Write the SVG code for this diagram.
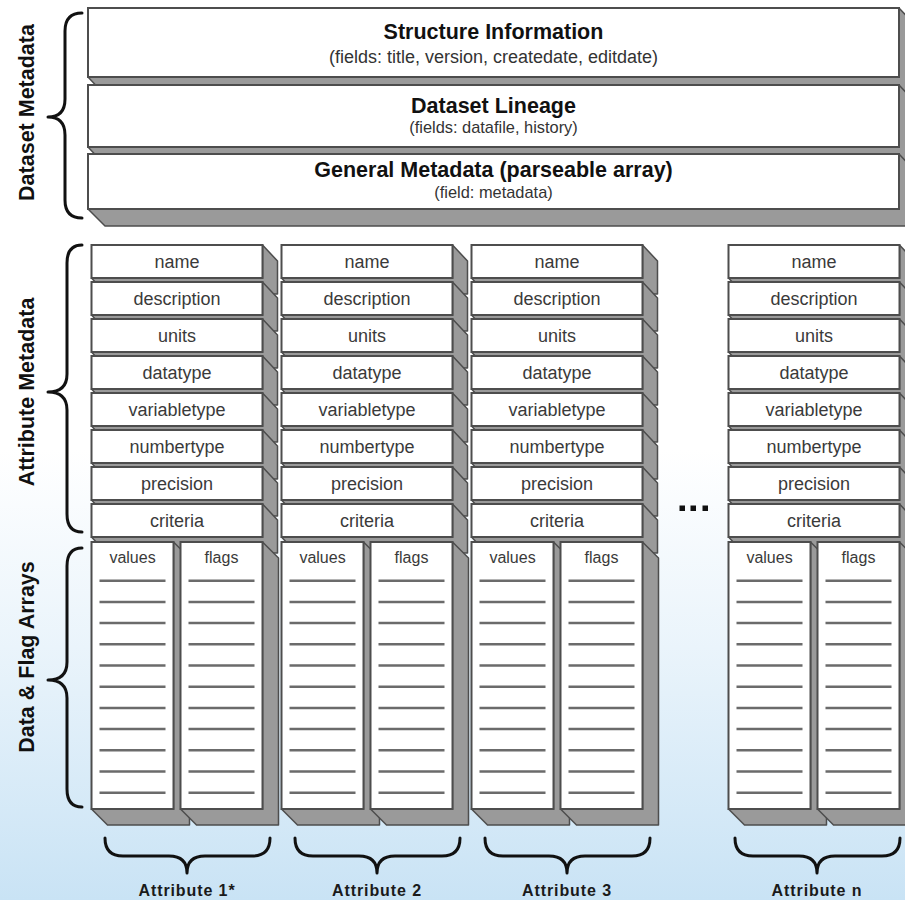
<svg xmlns="http://www.w3.org/2000/svg" width="905" height="900" viewBox="0 0 905 900">
<defs>
<linearGradient id="bg" x1="0" y1="0" x2="0" y2="1">
<stop offset="0" stop-color="#ffffff"/>
<stop offset="0.5" stop-color="#ffffff"/>
<stop offset="0.72" stop-color="#eaf4fb"/>
<stop offset="1" stop-color="#c9e3f5"/>
</linearGradient>
<style>
.face{fill:#ffffff;stroke:#4d4d4d;stroke-width:2}
.ext{fill:#9a9a9a;stroke:#4d4d4d;stroke-width:1.5;stroke-linejoin:round}
.title{font-family:"Liberation Sans",Arial,sans-serif;font-weight:bold;font-size:21.5px;fill:#111;text-anchor:middle}
.sub{font-family:"Liberation Sans",Arial,sans-serif;font-size:16.4px;fill:#333;text-anchor:middle}
.lbl{font-family:"Liberation Sans",Arial,sans-serif;font-size:18px;fill:#3a3a3a;text-anchor:middle}
.dl{font-family:"Liberation Sans",Arial,sans-serif;font-size:16px;fill:#3a3a3a;text-anchor:middle}
.side{font-family:"Liberation Sans",Arial,sans-serif;font-weight:bold;font-size:21.5px;fill:#111;text-anchor:middle}
.att{font-family:"Liberation Sans",Arial,sans-serif;font-weight:bold;font-size:16px;letter-spacing:0.9px;fill:#1a1a1a;text-anchor:middle}
.brace{fill:none;stroke:#111;stroke-width:3;stroke-linecap:round;stroke-linejoin:round}
.row{stroke:#6b6b6b;stroke-width:2.5}
</style>
</defs>
<rect x="0" y="0" width="905" height="900" fill="url(#bg)"/>

<!-- Dataset metadata -->
<g id="structure-information">
<path class="ext" d="M88 77 L104 94 L915 94 L915 25 L899 8 L899 77 Z"/>
<rect class="face" x="88" y="8" width="811" height="69"/>
<text class="title" x="493.5" y="39">Structure Information</text>
<text class="sub" x="493.5" y="63" style="font-size:18px">(fields: title, version, createdate, editdate)</text>
</g>
<g id="dataset-lineage">
<path class="ext" d="M88 147 L104 164 L915 164 L915 102 L899 85 L899 147 Z"/>
<rect class="face" x="88" y="85" width="811" height="62"/>
<text class="title" x="493.5" y="112.5">Dataset Lineage</text>
<text class="sub" x="493.5" y="133">(fields: datafile, history)</text>
</g>
<g id="general-metadata">
<path class="ext" d="M88 209 L105 226 L915 226 L915 171 L899 154 L899 209 Z"/>
<rect class="face" x="88" y="154" width="811" height="55"/>
<text class="title" x="493.5" y="177">General Metadata (parseable array)</text>
<text class="sub" x="493.5" y="198">(field: metadata)</text>
</g>

<!-- Attribute columns -->
<g id="attribute-1">
<g transform="translate(91.5,0)">
<path class="ext" d="M0 278 L15 294 L186 294 L186 261 L171 245 L171 278 Z"/><rect class="face" x="0" y="245" width="171" height="33"/><text class="lbl" x="85.5" y="267.5">name</text>
<path class="ext" d="M0 315 L15 331 L186 331 L186 298 L171 282 L171 315 Z"/><rect class="face" x="0" y="282" width="171" height="33"/><text class="lbl" x="85.5" y="304.5">description</text>
<path class="ext" d="M0 352 L15 368 L186 368 L186 335 L171 319 L171 352 Z"/><rect class="face" x="0" y="319" width="171" height="33"/><text class="lbl" x="85.5" y="341.5">units</text>
<path class="ext" d="M0 389 L15 405 L186 405 L186 372 L171 356 L171 389 Z"/><rect class="face" x="0" y="356" width="171" height="33"/><text class="lbl" x="85.5" y="378.5">datatype</text>
<path class="ext" d="M0 426 L15 442 L186 442 L186 409 L171 393 L171 426 Z"/><rect class="face" x="0" y="393" width="171" height="33"/><text class="lbl" x="85.5" y="415.5">variabletype</text>
<path class="ext" d="M0 463 L15 479 L186 479 L186 446 L171 430 L171 463 Z"/><rect class="face" x="0" y="430" width="171" height="33"/><text class="lbl" x="85.5" y="452.5">numbertype</text>
<path class="ext" d="M0 500 L15 516 L186 516 L186 483 L171 467 L171 500 Z"/><rect class="face" x="0" y="467" width="171" height="33"/><text class="lbl" x="85.5" y="489.5">precision</text>
<path class="ext" d="M0 537 L15 553 L186 553 L186 520 L171 504 L171 537 Z"/><rect class="face" x="0" y="504" width="171" height="33"/><text class="lbl" x="85.5" y="526.5">criteria</text>
<path class="ext" d="M0 809 L16 825 L98 825 L98 558 L82 542 L82 809 Z"/><rect class="face" x="0" y="542" width="82" height="267"/><text class="dl" x="41" y="563">values</text>
<path class="ext" d="M89 809 L105 825 L187 825 L187 558 L171 542 L171 809 Z"/><rect class="face" x="89" y="542" width="82" height="267"/><text class="dl" x="130" y="563">flags</text>
<path class="row" d="M8 580.7H74M8 601.9H74M8 623.1H74M8 644.3H74M8 665.5H74M8 686.7H74M8 707.9H74M8 729.1H74M8 750.3H74M8 771.5H74M8 792.7H74M97 580.7H163M97 601.9H163M97 623.1H163M97 644.3H163M97 665.5H163M97 686.7H163M97 707.9H163M97 729.1H163M97 750.3H163M97 771.5H163M97 792.7H163"/>
</g>
</g>
<g id="attribute-2">
<g transform="translate(281.5,0)">
<path class="ext" d="M0 278 L15 294 L186 294 L186 261 L171 245 L171 278 Z"/><rect class="face" x="0" y="245" width="171" height="33"/><text class="lbl" x="85.5" y="267.5">name</text>
<path class="ext" d="M0 315 L15 331 L186 331 L186 298 L171 282 L171 315 Z"/><rect class="face" x="0" y="282" width="171" height="33"/><text class="lbl" x="85.5" y="304.5">description</text>
<path class="ext" d="M0 352 L15 368 L186 368 L186 335 L171 319 L171 352 Z"/><rect class="face" x="0" y="319" width="171" height="33"/><text class="lbl" x="85.5" y="341.5">units</text>
<path class="ext" d="M0 389 L15 405 L186 405 L186 372 L171 356 L171 389 Z"/><rect class="face" x="0" y="356" width="171" height="33"/><text class="lbl" x="85.5" y="378.5">datatype</text>
<path class="ext" d="M0 426 L15 442 L186 442 L186 409 L171 393 L171 426 Z"/><rect class="face" x="0" y="393" width="171" height="33"/><text class="lbl" x="85.5" y="415.5">variabletype</text>
<path class="ext" d="M0 463 L15 479 L186 479 L186 446 L171 430 L171 463 Z"/><rect class="face" x="0" y="430" width="171" height="33"/><text class="lbl" x="85.5" y="452.5">numbertype</text>
<path class="ext" d="M0 500 L15 516 L186 516 L186 483 L171 467 L171 500 Z"/><rect class="face" x="0" y="467" width="171" height="33"/><text class="lbl" x="85.5" y="489.5">precision</text>
<path class="ext" d="M0 537 L15 553 L186 553 L186 520 L171 504 L171 537 Z"/><rect class="face" x="0" y="504" width="171" height="33"/><text class="lbl" x="85.5" y="526.5">criteria</text>
<path class="ext" d="M0 809 L16 825 L98 825 L98 558 L82 542 L82 809 Z"/><rect class="face" x="0" y="542" width="82" height="267"/><text class="dl" x="41" y="563">values</text>
<path class="ext" d="M89 809 L105 825 L187 825 L187 558 L171 542 L171 809 Z"/><rect class="face" x="89" y="542" width="82" height="267"/><text class="dl" x="130" y="563">flags</text>
<path class="row" d="M8 580.7H74M8 601.9H74M8 623.1H74M8 644.3H74M8 665.5H74M8 686.7H74M8 707.9H74M8 729.1H74M8 750.3H74M8 771.5H74M8 792.7H74M97 580.7H163M97 601.9H163M97 623.1H163M97 644.3H163M97 665.5H163M97 686.7H163M97 707.9H163M97 729.1H163M97 750.3H163M97 771.5H163M97 792.7H163"/>
</g>
</g>
<g id="attribute-3">
<g transform="translate(471.5,0)">
<path class="ext" d="M0 278 L15 294 L186 294 L186 261 L171 245 L171 278 Z"/><rect class="face" x="0" y="245" width="171" height="33"/><text class="lbl" x="85.5" y="267.5">name</text>
<path class="ext" d="M0 315 L15 331 L186 331 L186 298 L171 282 L171 315 Z"/><rect class="face" x="0" y="282" width="171" height="33"/><text class="lbl" x="85.5" y="304.5">description</text>
<path class="ext" d="M0 352 L15 368 L186 368 L186 335 L171 319 L171 352 Z"/><rect class="face" x="0" y="319" width="171" height="33"/><text class="lbl" x="85.5" y="341.5">units</text>
<path class="ext" d="M0 389 L15 405 L186 405 L186 372 L171 356 L171 389 Z"/><rect class="face" x="0" y="356" width="171" height="33"/><text class="lbl" x="85.5" y="378.5">datatype</text>
<path class="ext" d="M0 426 L15 442 L186 442 L186 409 L171 393 L171 426 Z"/><rect class="face" x="0" y="393" width="171" height="33"/><text class="lbl" x="85.5" y="415.5">variabletype</text>
<path class="ext" d="M0 463 L15 479 L186 479 L186 446 L171 430 L171 463 Z"/><rect class="face" x="0" y="430" width="171" height="33"/><text class="lbl" x="85.5" y="452.5">numbertype</text>
<path class="ext" d="M0 500 L15 516 L186 516 L186 483 L171 467 L171 500 Z"/><rect class="face" x="0" y="467" width="171" height="33"/><text class="lbl" x="85.5" y="489.5">precision</text>
<path class="ext" d="M0 537 L15 553 L186 553 L186 520 L171 504 L171 537 Z"/><rect class="face" x="0" y="504" width="171" height="33"/><text class="lbl" x="85.5" y="526.5">criteria</text>
<path class="ext" d="M0 809 L16 825 L98 825 L98 558 L82 542 L82 809 Z"/><rect class="face" x="0" y="542" width="82" height="267"/><text class="dl" x="41" y="563">values</text>
<path class="ext" d="M89 809 L105 825 L187 825 L187 558 L171 542 L171 809 Z"/><rect class="face" x="89" y="542" width="82" height="267"/><text class="dl" x="130" y="563">flags</text>
<path class="row" d="M8 580.7H74M8 601.9H74M8 623.1H74M8 644.3H74M8 665.5H74M8 686.7H74M8 707.9H74M8 729.1H74M8 750.3H74M8 771.5H74M8 792.7H74M97 580.7H163M97 601.9H163M97 623.1H163M97 644.3H163M97 665.5H163M97 686.7H163M97 707.9H163M97 729.1H163M97 750.3H163M97 771.5H163M97 792.7H163"/>
</g>
</g>
<g id="attribute-n">
<g transform="translate(728.5,0)">
<path class="ext" d="M0 278 L15 294 L186 294 L186 261 L171 245 L171 278 Z"/><rect class="face" x="0" y="245" width="171" height="33"/><text class="lbl" x="85.5" y="267.5">name</text>
<path class="ext" d="M0 315 L15 331 L186 331 L186 298 L171 282 L171 315 Z"/><rect class="face" x="0" y="282" width="171" height="33"/><text class="lbl" x="85.5" y="304.5">description</text>
<path class="ext" d="M0 352 L15 368 L186 368 L186 335 L171 319 L171 352 Z"/><rect class="face" x="0" y="319" width="171" height="33"/><text class="lbl" x="85.5" y="341.5">units</text>
<path class="ext" d="M0 389 L15 405 L186 405 L186 372 L171 356 L171 389 Z"/><rect class="face" x="0" y="356" width="171" height="33"/><text class="lbl" x="85.5" y="378.5">datatype</text>
<path class="ext" d="M0 426 L15 442 L186 442 L186 409 L171 393 L171 426 Z"/><rect class="face" x="0" y="393" width="171" height="33"/><text class="lbl" x="85.5" y="415.5">variabletype</text>
<path class="ext" d="M0 463 L15 479 L186 479 L186 446 L171 430 L171 463 Z"/><rect class="face" x="0" y="430" width="171" height="33"/><text class="lbl" x="85.5" y="452.5">numbertype</text>
<path class="ext" d="M0 500 L15 516 L186 516 L186 483 L171 467 L171 500 Z"/><rect class="face" x="0" y="467" width="171" height="33"/><text class="lbl" x="85.5" y="489.5">precision</text>
<path class="ext" d="M0 537 L15 553 L186 553 L186 520 L171 504 L171 537 Z"/><rect class="face" x="0" y="504" width="171" height="33"/><text class="lbl" x="85.5" y="526.5">criteria</text>
<path class="ext" d="M0 809 L16 825 L98 825 L98 558 L82 542 L82 809 Z"/><rect class="face" x="0" y="542" width="82" height="267"/><text class="dl" x="41" y="563">values</text>
<path class="ext" d="M89 809 L105 825 L187 825 L187 558 L171 542 L171 809 Z"/><rect class="face" x="89" y="542" width="82" height="267"/><text class="dl" x="130" y="563">flags</text>
<path class="row" d="M8 580.7H74M8 601.9H74M8 623.1H74M8 644.3H74M8 665.5H74M8 686.7H74M8 707.9H74M8 729.1H74M8 750.3H74M8 771.5H74M8 792.7H74M97 580.7H163M97 601.9H163M97 623.1H163M97 644.3H163M97 665.5H163M97 686.7H163M97 707.9H163M97 729.1H163M97 750.3H163M97 771.5H163M97 792.7H163"/>
</g>
</g>

<g id="ellipsis" fill="#111">
<rect x="679.5" y="505.5" width="5.5" height="5.5"/>
<rect x="690.5" y="505.5" width="5.5" height="5.5"/>
<rect x="702.5" y="505.5" width="5.5" height="5.5"/>
</g>

<!-- Braces and group labels -->
<g id="connectors">
<path class="brace" d="M82 13 Q65 13 65 31 L65 99 Q65 117 48 117 Q65 117 65 135 L65 200 Q65 218 82 218"/>
<path class="brace" d="M82 245 Q67 245 67 263 L67 374 Q67 392 48 392 Q67 392 67 410 L67 514 Q67 532 82 532"/>
<path class="brace" d="M82 548 Q67 548 67 566 L67 662 Q67 680 48 680 Q67 680 67 698 L67 789 Q67 807 82 807"/>
<path class="brace" d="M105 838 Q105 856 123 856 L169 856 Q187 856 187 873 Q187 856 205 856 L252 856 Q270 856 270 838"/>
<path class="brace" d="M295 838 Q295 856 313 856 L359 856 Q377 856 377 873 Q377 856 395 856 L442 856 Q460 856 460 838"/>
<path class="brace" d="M485 838 Q485 856 503 856 L549 856 Q567 856 567 873 Q567 856 585 856 L632 856 Q650 856 650 838"/>
<path class="brace" d="M735 838 Q735 856 753 856 L799 856 Q817 856 817 873 Q817 856 835 856 L882 856 Q900 856 900 838"/>
</g>
<g id="labels">
<text class="side" transform="translate(33.5,112.5) rotate(-90)">Dataset Metadata</text>
<text class="side" transform="translate(33.5,392) rotate(-90)">Attribute Metadata</text>
<text class="side" transform="translate(33.5,657) rotate(-90)">Data &amp; Flag Arrays</text>
<text class="att" x="187" y="896">Attribute 1*</text>
<text class="att" x="377" y="896">Attribute 2</text>
<text class="att" x="567" y="896">Attribute 3</text>
<text class="att" x="817" y="896">Attribute n</text>
</g>
</svg>
